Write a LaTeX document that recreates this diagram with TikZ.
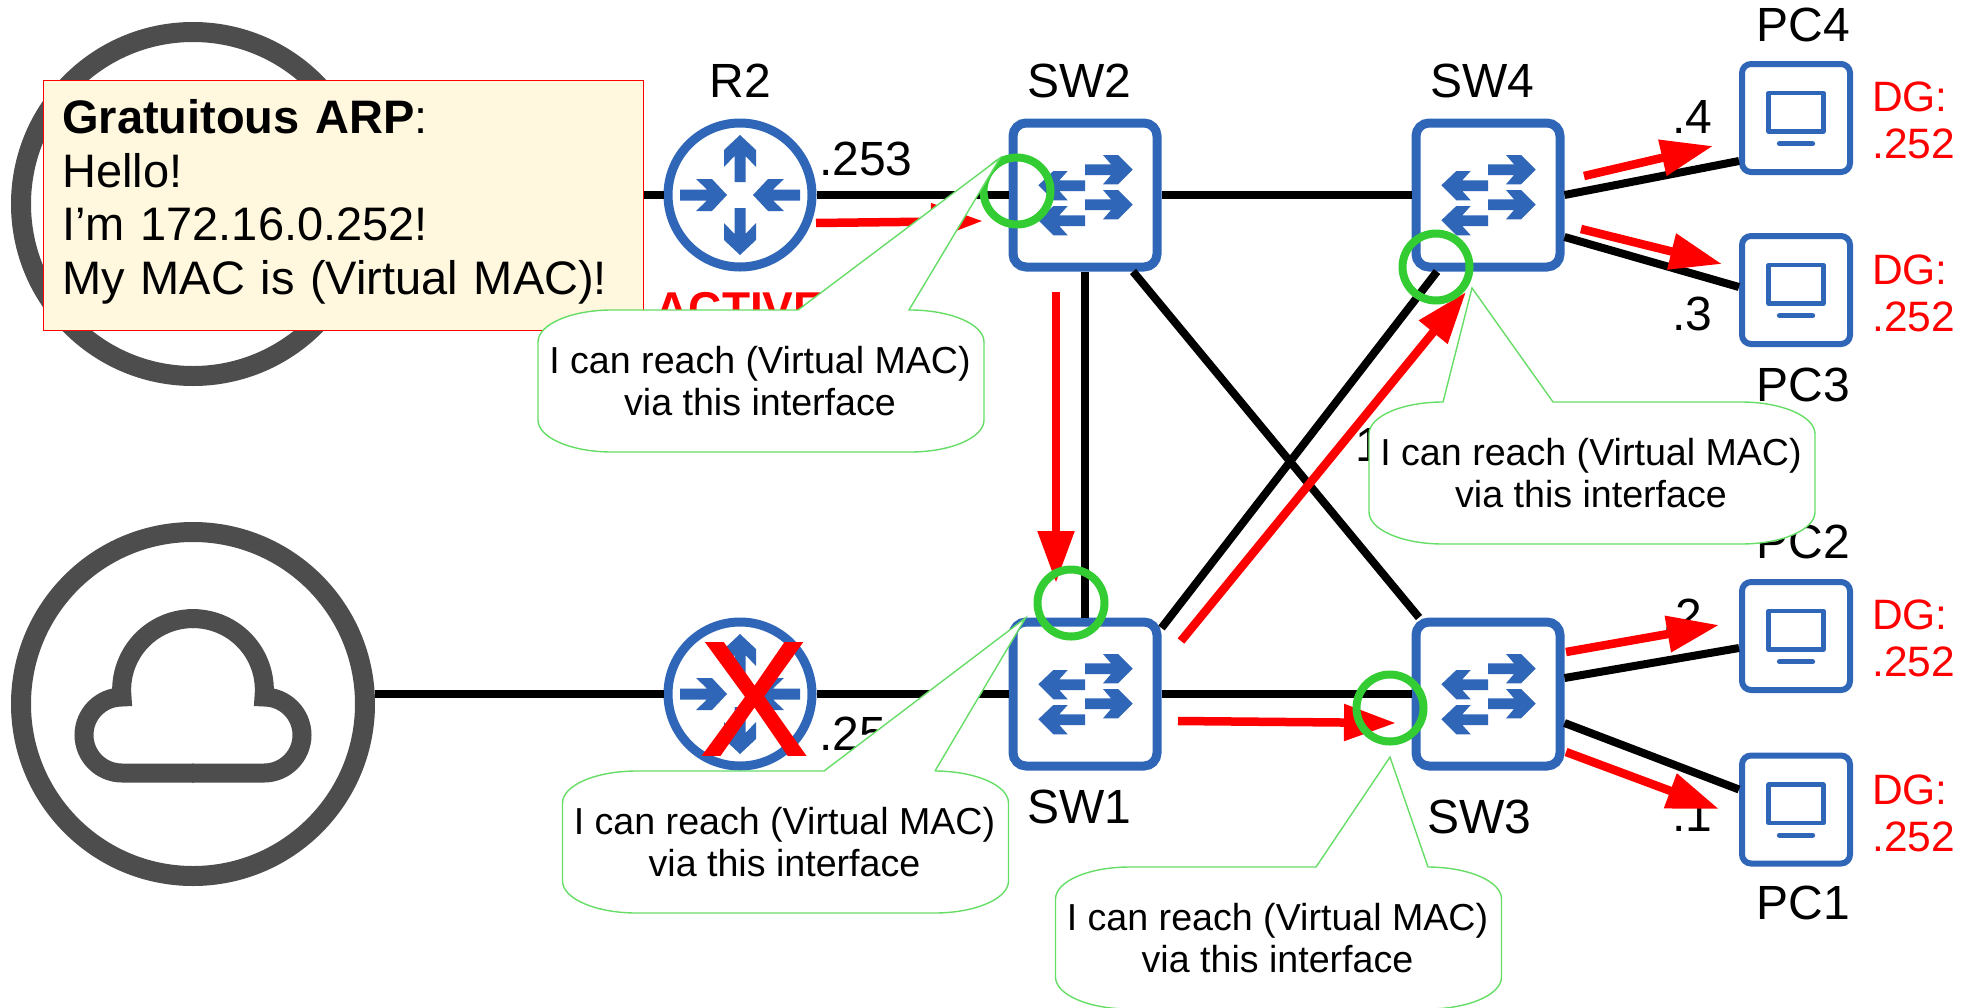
\documentclass[tikz,border=0pt]{standalone}
\usepackage{fontspec}
\setmainfont{Liberation Sans}
\usetikzlibrary{arrows.meta}

\definecolor{iconblue}{HTML}{2F66B8}
\definecolor{cloudgrey}{HTML}{4D4D4D}
\definecolor{ringgreen}{HTML}{33CC33}
\definecolor{notegreen}{HTML}{66DD66}
\definecolor{arpyellow}{HTML}{FFF7DE}

\tikzset{
	wire/.style={line width=8pt},
	flow/.style={red, line width=8.5pt, -{Triangle[length=52pt, width=35pt]}},
	biglabel/.style={font=\fontsize{48}{53}\selectfont, inner sep=0pt},
	dglabel/.style={red, font=\fontsize{42.5}{47}\selectfont, inner sep=0pt, align=left, anchor=west},
	notelabel/.style={font=\fontsize{37.6}{42.5}\selectfont, inner sep=0pt, align=center},
	notearea/.style={draw=notegreen, fill=white, line width=1.4pt},
	cloudring/.style={shape=circle, draw=cloudgrey, line width=20pt, minimum size=344pt, inner sep=0pt},
	router/.style={shape=circle, draw=iconblue, fill=white, line width=9pt, minimum size=144pt, inner sep=0pt},
	switchbox/.style={shape=rectangle, rounded corners=13pt, draw=iconblue, fill=white, line width=9pt, minimum size=144pt, inner sep=0pt},
	pcbox/.style={shape=rectangle, rounded corners=9pt, draw=iconblue, fill=white, line width=6pt, minimum size=108pt, inner sep=0pt},
	portring/.style={shape=circle, draw=ringgreen, line width=8pt, minimum size=67pt, inner sep=0pt},
	pics/cloudicon/.style={code={
		\foreach \s in {1, -1}
			\draw[cloudgrey, line width=19pt, xscale=\s] (-1, 69) -- (71, 69) arc[start angle=90, end angle=-90, radius=38] arc[start angle=5.7, end angle=-91, radius=71.35];
	}},
	pics/routericon/.style={code={
		\foreach \a in {0, 180}
			\fill[iconblue, rotate=\a] (-60, -5.5) -- (-33, -5.5) -- (-44, -16) -- (-28, -16) -- (-13, 0) -- (-28, 16) -- (-44, 16) -- (-33, 5.5) -- (-60, 5.5) -- cycle;
		\foreach \a in {0, 180}
			\fill[iconblue, rotate=\a] (0, -60) -- (16, -45) -- (16, -28) -- (5.5, -39) -- (5.5, -13) -- (-5.5, -13) -- (-5.5, -39) -- (-16, -28) -- (-16, -45) -- cycle;
	}},
	pics/switchicon/.style={code={
		\foreach \d in {0, 35} {
			\fill[iconblue, shift={(0, \d)}] (0, -30.7) -- (26, -30.7) -- (18, -40) -- (33, -40) -- (47.7, -25.3) -- (33, -10.7) -- (18, -10.7) -- (26, -20) -- (0, -20) -- cycle;
			\fill[iconblue, shift={(0, \d)}] (0, -14.7) -- (-25.7, -14.7) -- (-17.3, -24) -- (-31.7, -24) -- (-46.7, -9.7) -- (-31.7, 5.3) -- (-17.3, 5.3) -- (-25.7, -4) -- (0, -4) -- cycle;
		}
	}},
	pics/pcicon/.style={code={
		\draw[iconblue, line width=4.5pt, line join=round] (-27.3, -24.8) rectangle (27.3, 13.5);
		\draw[iconblue, line width=5.3pt, line cap=round] (-16.5, 25.7) -- (16.5, 25.7);
	}},
}

\newcommand{\notecallout}[7]{
	\draw[notearea] (#2, {#3+32}) arc[start angle=180, end angle=270, x radius=74, y radius=32] -- (#4, #3) -- (#6, #7) -- (#5, #3) -- ({#2+372}, #3) arc[start angle=270, end angle=360, x radius=74, y radius=32] -- ({#2+446}, {#3+110}) arc[start angle=0, end angle=90, x radius=74, y radius=32] -- ({#2+74}, {#3+142}) arc[start angle=90, end angle=180, x radius=74, y radius=32] -- cycle;
	\node[notelabel] (#1) at ({#2+222}, {#3+71}) {I can reach (Virtual MAC)\\via this interface};
}

\begin{document}
\begin{tikzpicture}[x=1pt, y=-1pt]
	\useasboundingbox (0, 0) rectangle (1972, 1007);
	% Devices:
	\node[cloudring] (cloud2) at (193, 204) {};
	\node[cloudring] (cloud1) at (193, 704) {};
	\pic at (cloud2) {cloudicon};
	\pic at (cloud1) {cloudicon};
	\node[router] (r2) at (740, 195) {};
	\node[router] (r1) at (740, 694) {};
	\node[switchbox] (sw2) at (1085, 195) {};
	\node[switchbox] (sw4) at (1488, 195) {};
	\node[switchbox] (sw1) at (1085, 694) {};
	\node[switchbox] (sw3) at (1488, 694) {};
	\node[pcbox] (pc4) at (1796, 118) {};
	\node[pcbox] (pc3) at (1796, 290) {};
	\node[pcbox] (pc2) at (1796, 636) {};
	\node[pcbox] (pc1) at (1796, 809.5) {};
	\pic at (r2) {routericon};
	\pic at (r1) {routericon};
	\pic at (sw2) {switchicon};
	\pic at (sw4) {switchicon};
	\pic at (sw1) {switchicon};
	\pic at (sw3) {switchicon};
	\pic at (pc4) {pcicon};
	\pic at (pc3) {pcicon};
	\pic at (pc2) {pcicon};
	\pic at (pc1) {pcicon};
	% Wires:
	\draw[wire] ([yshift=9pt]cloud2.east) -- (r2);
	\draw[wire] ([yshift=10pt]cloud1.east) -- (r1);
	\draw[wire] (r2) -- (sw2);
	\draw[wire] (r1) -- (sw1);
	\draw[wire] (sw2) -- (sw4);
	\draw[wire] (sw1) -- (sw3);
	\draw[wire] (sw2) -- (sw1);
	\draw[wire] ([xshift=48pt]sw2.south) -- ([xshift=-69pt]sw3.north);
	\draw[wire] ([yshift=66pt]sw1.east) -- ([xshift=-51pt]sw4.south);
	\draw[wire] ([yshift=0pt]sw4.east) -- ([yshift=-43pt]pc4.west);
	\draw[wire] ([yshift=-42pt]sw4.east) -- ([yshift=3pt]pc3.west);
	\draw[wire] ([yshift=16pt]sw3.east) -- ([yshift=-12pt]pc2.west);
	\draw[wire] ([yshift=-29pt]sw3.east) -- ([yshift=20pt]pc1.west);
	% Labels:
	\node[biglabel, anchor=base] (r2name) at (740.5, 97) {R2};
	\node[biglabel, anchor=base] (sw2name) at (1079, 97) {SW2};
	\node[biglabel, anchor=base] (sw4name) at (1482, 97) {SW4};
	\node[biglabel, anchor=base] (sw1name) at (1079, 823) {SW1};
	\node[biglabel, anchor=base] (sw3name) at (1479, 833) {SW3};
	\node[biglabel, anchor=base] (pc4name) at (1803, 41) {PC4};
	\node[biglabel, anchor=base] (pc3name) at (1803, 401) {PC3};
	\node[biglabel, anchor=base] (pc2name) at (1803, 558) {PC2};
	\node[biglabel, anchor=base] (pc1name) at (1803, 919) {PC1};
	\node[biglabel, anchor=base west] (r2addr) at (819, 175) {.253};
	\node[biglabel, anchor=base west] (r1addr) at (819, 750) {.254};
	\node[biglabel, anchor=base west] (pc4addr) at (1672, 133) {.4};
	\node[biglabel, anchor=base west] (pc3addr) at (1672, 330) {.3};
	\node[biglabel, anchor=base west] (pc2addr) at (1662, 632) {.2};
	\node[biglabel, anchor=base west] (pc1addr) at (1672, 831) {.1};
	\node[biglabel, anchor=base west] (midaddr) at (1355, 461) {1};
	\node[biglabel, anchor=base, red, font=\fontsize{46}{53}\selectfont\bfseries] (r2state) at (740, 324) {ACTIVE};
	\node[dglabel] (pc4dg) at (1872, 120) {DG:\\.252};
	\node[dglabel] (pc3dg) at (1872, 293) {DG:\\.252};
	\node[dglabel] (pc2dg) at (1872, 638) {DG:\\.252};
	\node[dglabel] (pc1dg) at (1872, 813) {DG:\\.252};
	\node[red, inner sep=0pt, font=\fontsize{163}{163}\selectfont\addfontfeature{FakeBold=1}] (r1down) at (754, 699) {X};
	% Traffic:
	\coordinate (flow1a) at (816, 223); \coordinate (flow1b) at (983, 221);
	\coordinate (flow2a) at (1056, 292); \coordinate (flow2b) at (1056, 583);
	\coordinate (flow3a) at (1178, 721); \coordinate (flow3b) at (1396, 723);
	\coordinate (flow4a) at (1181, 641); \coordinate (flow4b) at (1466, 292);
	\coordinate (flow5a) at (1584, 176); \coordinate (flow5b) at (1713, 146);
	\coordinate (flow6a) at (1581, 229); \coordinate (flow6b) at (1722, 264);
	\coordinate (flow7a) at (1566, 652); \coordinate (flow7b) at (1719, 625);
	\coordinate (flow8a) at (1566, 752); \coordinate (flow8b) at (1719, 809);
	\draw[flow] (flow1a) -- (flow1b);
	\draw[flow] (flow2a) -- (flow2b);
	\draw[flow] (flow3a) -- (flow3b);
	\draw[flow] (flow4a) -- (flow4b);
	\draw[flow] (flow5a) -- (flow5b);
	\draw[flow] (flow6a) -- (flow6b);
	\draw[flow] (flow7a) -- (flow7b);
	\draw[flow] (flow8a) -- (flow8b);
	\node[portring] (ring2) at (1017, 191) {};
	\node[portring] (ring4) at (1436, 267) {};
	\node[portring] (ring1) at (1071, 603) {};
	\node[portring] (ring3) at (1390, 708) {};
	% Notes:
	\node[shape=rectangle, draw=red, fill=arpyellow, line width=1.4pt, anchor=north west, minimum width=600pt, minimum height=250pt, inner sep=0pt] (arpnote) at (43, 80) {};
	\node[anchor=west, inner sep=0pt, text width=562pt, align=left, font=\fontsize{47}{53.5}\selectfont] (arptext) at ([xshift=19pt, yshift=4pt]arpnote.west) {\textbf{Gratuitous ARP}:\\Hello!\\I’m 172.16.0.252!\\My MAC is (Virtual MAC)!};
	\notecallout{note2}{538}{310}{798}{909}{1000}{158}
	\notecallout{note4}{1369}{402}{1443}{1553}{1472}{288}
	\notecallout{note1}{562.5}{771}{824}{935}{1025.5}{618}
	\notecallout{note3}{1055.5}{867}{1316}{1428}{1390}{757}
\end{tikzpicture}
\end{document}
